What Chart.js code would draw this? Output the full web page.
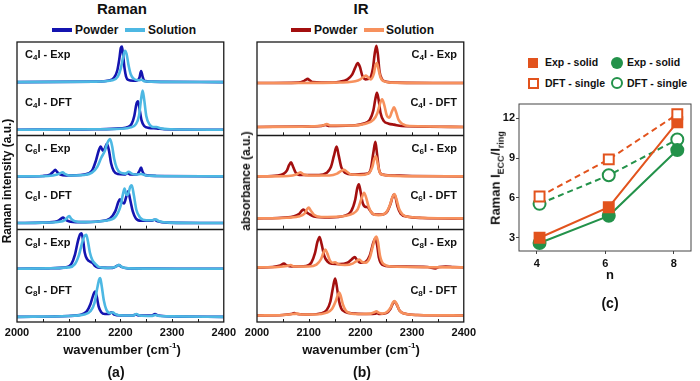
<!DOCTYPE html>
<html>
<head>
<meta charset="utf-8">
<script src="https://cdn.jsdelivr.net/npm/chart.js@4.4.1/dist/chart.umd.min.js"></script>
<style>
  html, body { margin: 0; padding: 0; background: #fff; }
  #page { position: relative; width: 700px; height: 381px; overflow: hidden; font-family: "Liberation Sans", Arial, sans-serif; color: #111; }
  .chartBox { position: absolute; }
  .t { position: absolute; white-space: nowrap; font-weight: 700; line-height: 1; }
  .c { transform: translate(-50%, -50%); }
  .rot { transform: translate(-50%, -50%) rotate(-90deg); }
  .lbl { font-size: 11px; transform: translateY(-50%); }
  .lbl sub { font-size: 8px; vertical-align: -2px; }
  .legLine { position: absolute; height: 4px; width: 20px; }
  .mk { position: absolute; box-sizing: border-box; }
</style>
</head>
<body>
<div id="page">
  <div class="t c" style="left:122px; top:8px; font-size:15px;">Raman</div>
  <div class="t c" style="left:361px; top:8px; font-size:15px;">IR</div>

  <div class="legLine" style="left:52px; top:28px; background:#1414b0;"></div>
  <div class="t" style="left:75px; top:24px; font-size:12px;">Powder</div>
  <div class="legLine" style="left:125px; top:28px; background:#4db8e3;"></div>
  <div class="t" style="left:148px; top:24px; font-size:12px;">Solution</div>

  <div class="legLine" style="left:291px; top:28px; background:#a30f0f;"></div>
  <div class="t" style="left:314px; top:24px; font-size:12px;">Powder</div>
  <div class="legLine" style="left:364px; top:28px; background:#f7915d;"></div>
  <div class="t" style="left:386px; top:24px; font-size:12px;">Solution</div>

  <div class="chartBox" style="left:0; top:0; width:240px; height:346px;"><canvas id="ramanChart"></canvas></div>
  <div class="chartBox" style="left:240px; top:0; width:240px; height:346px;"><canvas id="irChart"></canvas></div>
  <div class="chartBox" style="left:490px; top:95px; width:210px; height:180px;"><canvas id="ratioChart"></canvas></div>

  <div class="t lbl" style="left:25px; top:55px;">C<sub>4</sub>I - Exp</div>
  <div class="t lbl" style="left:25px; top:103px;">C<sub>4</sub>I - DFT</div>
  <div class="t lbl" style="left:25px; top:149px;">C<sub>6</sub>I - Exp</div>
  <div class="t lbl" style="left:25px; top:196px;">C<sub>6</sub>I - DFT</div>
  <div class="t lbl" style="left:25px; top:243px;">C<sub>8</sub>I - Exp</div>
  <div class="t lbl" style="left:25px; top:291px;">C<sub>8</sub>I - DFT</div>

  <div class="t lbl" style="right:243px; top:55px;">C<sub>4</sub>I - Exp</div>
  <div class="t lbl" style="right:243px; top:103px;">C<sub>4</sub>I - DFT</div>
  <div class="t lbl" style="right:243px; top:149px;">C<sub>6</sub>I - Exp</div>
  <div class="t lbl" style="right:243px; top:196px;">C<sub>6</sub>I - DFT</div>
  <div class="t lbl" style="right:243px; top:243px;">C<sub>8</sub>I - Exp</div>
  <div class="t lbl" style="right:243px; top:291px;">C<sub>8</sub>I - DFT</div>

  <div class="t rot" style="left:7px; top:181px; font-size:12px;">Raman intensity (a.u.)</div>
  <div class="t rot" style="left:246px; top:181px; font-size:12px;">absorbance (a.u.)</div>

  <div class="t c" style="left:122px; top:349px; font-size:13px;">wavenumber (cm<sup style="font-size:8px;">-1</sup>)</div>
  <div class="t c" style="left:361px; top:349px; font-size:13px;">wavenumber (cm<sup style="font-size:8px;">-1</sup>)</div>
  <div class="t c" style="left:116px; top:372px; font-size:14px;">(a)</div>
  <div class="t c" style="left:362px; top:372px; font-size:14px;">(b)</div>

  <div class="mk" style="left:528px; top:58px; width:10px; height:10px; background:#e2531d;"></div>
  <div class="t" style="left:545px; top:57px; font-size:10.5px;">Exp - solid</div>
  <div class="mk" style="left:611px; top:57px; width:12px; height:12px; border-radius:50%; background:#23924a;"></div>
  <div class="t" style="left:627px; top:57px; font-size:10.5px;">Exp - solid</div>
  <div class="mk" style="left:528px; top:78px; width:11px; height:11px; border:2px solid #e2531d; background:#fff;"></div>
  <div class="t" style="left:545px; top:78px; font-size:10.5px;">DFT - single</div>
  <div class="mk" style="left:611px; top:77px; width:12px; height:12px; border-radius:50%; border:2px solid #23924a; background:#fff;"></div>
  <div class="t" style="left:627px; top:78px; font-size:10.5px;">DFT - single</div>

  <div class="t rot" style="left:497px; top:178px; font-size:13px;">Raman I<sub style="font-size:9px;">ECC</sub>/I<sub style="font-size:9px;">ring</sub></div>
  <div class="t c" style="left:610px; top:274px; font-size:13px;">n</div>
  <div class="t c" style="left:610px; top:303px; font-size:14px;">(c)</div>
</div>

<script>
// Raman spectra [wavenumber, intensity]
const ramanC4ExpPowder = [[2000,0],[2150,0.01],[2180,0.04],[2188,0.1],[2194,0.25],[2198,0.5],[2201,0.74],[2203,0.76],[2205,0.6],[2208,0.3],[2211,0.12],[2215,0.05],[2225,0.03],[2233,0.04],[2237,0.1],[2240,0.24],[2243,0.12],[2246,0.03],[2260,0.01],[2400,0]];
const ramanC4ExpSolution = [[2000,0],[2150,0.01],[2185,0.04],[2195,0.12],[2201,0.3],[2205,0.52],[2209,0.67],[2212,0.6],[2216,0.35],[2220,0.17],[2226,0.07],[2235,0.04],[2241,0.05],[2246,0.02],[2260,0.01],[2400,0]];
const ramanC4DftPowder = [[2000,0],[2150,0.01],[2200,0.03],[2215,0.06],[2222,0.13],[2227,0.3],[2231,0.55],[2234,0.61],[2237,0.45],[2241,0.2],[2246,0.08],[2255,0.04],[2270,0.03],[2285,0.01],[2400,0]];
const ramanC4DftSolution = [[2000,0],[2150,0.01],[2200,0.02],[2220,0.05],[2230,0.12],[2236,0.3],[2240,0.65],[2243,0.84],[2246,0.65],[2250,0.3],[2256,0.12],[2263,0.06],[2270,0.06],[2277,0.03],[2300,0.01],[2400,0]];
const ramanC6ExpPowder = [[2000,0],[2050,0.01],[2064,0.04],[2070,0.1],[2074,0.14],[2078,0.09],[2084,0.04],[2095,0.02],[2130,0.04],[2145,0.12],[2153,0.35],[2158,0.55],[2162,0.64],[2166,0.55],[2170,0.6],[2174,0.7],[2178,0.55],[2182,0.28],[2187,0.12],[2195,0.05],[2208,0.04],[2214,0.07],[2220,0.04],[2232,0.04],[2237,0.12],[2240,0.19],[2243,0.1],[2248,0.03],[2270,0.01],[2400,0]];
const ramanC6ExpSolution = [[2000,0],[2060,0.01],[2078,0.04],[2084,0.07],[2088,0.09],[2093,0.05],[2100,0.02],[2130,0.03],[2145,0.08],[2155,0.2],[2163,0.4],[2170,0.55],[2175,0.72],[2180,0.8],[2184,0.65],[2188,0.38],[2193,0.18],[2200,0.08],[2210,0.06],[2216,0.1],[2222,0.06],[2232,0.04],[2240,0.05],[2250,0.02],[2270,0.01],[2400,0]];
const ramanC6DftPowder = [[2000,0],[2050,0.01],[2078,0.04],[2085,0.09],[2089,0.12],[2093,0.08],[2100,0.04],[2120,0.02],[2160,0.04],[2180,0.1],[2190,0.25],[2196,0.45],[2199,0.51],[2203,0.45],[2207,0.42],[2211,0.55],[2215,0.68],[2219,0.5],[2224,0.25],[2230,0.1],[2240,0.05],[2260,0.05],[2266,0.07],[2272,0.04],[2290,0.01],[2400,0]];
const ramanC6DftSolution = [[2000,0],[2050,0.01],[2088,0.04],[2095,0.09],[2101,0.15],[2105,0.09],[2112,0.04],[2130,0.02],[2170,0.05],[2190,0.13],[2200,0.35],[2205,0.62],[2208,0.74],[2212,0.6],[2215,0.62],[2219,0.78],[2222,0.81],[2226,0.6],[2231,0.28],[2238,0.12],[2250,0.06],[2262,0.06],[2268,0.08],[2275,0.04],[2295,0.01],[2400,0]];
const ramanC8ExpPowder = [[2000,0],[2060,0.01],[2095,0.03],[2105,0.1],[2112,0.3],[2118,0.6],[2122,0.74],[2125,0.76],[2128,0.6],[2131,0.35],[2136,0.2],[2142,0.15],[2146,0.13],[2150,0.07],[2156,0.03],[2185,0.02],[2193,0.06],[2197,0.08],[2202,0.04],[2215,0.01],[2400,0]];
const ramanC8ExpSolution = [[2000,0],[2060,0.01],[2100,0.03],[2112,0.1],[2120,0.3],[2127,0.6],[2131,0.71],[2134,0.73],[2137,0.6],[2141,0.35],[2146,0.18],[2152,0.1],[2158,0.04],[2170,0.02],[2190,0.04],[2197,0.08],[2203,0.04],[2215,0.01],[2400,0]];
const ramanC8DftPowder = [[2000,0],[2100,0.02],[2125,0.05],[2135,0.12],[2142,0.27],[2147,0.45],[2151,0.54],[2154,0.45],[2158,0.22],[2163,0.1],[2170,0.06],[2178,0.06],[2183,0.1],[2188,0.05],[2200,0.03],[2224,0.03],[2230,0.05],[2236,0.03],[2260,0.03],[2267,0.06],[2273,0.03],[2300,0.01],[2400,0]];
const ramanC8DftSolution = [[2000,0],[2100,0.02],[2130,0.05],[2142,0.12],[2150,0.3],[2155,0.6],[2159,0.8],[2161,0.83],[2164,0.65],[2168,0.35],[2173,0.15],[2180,0.08],[2185,0.1],[2190,0.06],[2205,0.03],[2224,0.03],[2231,0.06],[2237,0.03],[2260,0.02],[2268,0.04],[2275,0.02],[2300,0.01],[2400,0]];

// IR spectra [wavenumber, absorbance]
const irC4ExpPowder = [[2000,0],[2080,0.01],[2090,0.04],[2094,0.07],[2098,0.09],[2102,0.06],[2108,0.02],[2125,0.01],[2160,0.03],[2175,0.08],[2184,0.18],[2190,0.33],[2195,0.43],[2199,0.35],[2204,0.15],[2210,0.08],[2218,0.1],[2224,0.3],[2228,0.65],[2231,0.8],[2234,0.6],[2237,0.25],[2242,0.08],[2250,0.03],[2270,0.01],[2400,0]];
const irC4ExpSolution = [[2000,0],[2150,0.01],[2190,0.04],[2200,0.08],[2206,0.13],[2211,0.16],[2215,0.12],[2220,0.08],[2226,0.2],[2229,0.37],[2232,0.43],[2235,0.3],[2239,0.12],[2245,0.04],[2260,0.01],[2400,0]];
const irC4DftPowder = [[2000,0],[2100,0.01],[2125,0.02],[2132,0.04],[2140,0.02],[2180,0.03],[2205,0.07],[2218,0.15],[2225,0.35],[2229,0.6],[2232,0.73],[2235,0.6],[2239,0.3],[2245,0.13],[2255,0.07],[2265,0.05],[2280,0.02],[2400,0]];
const irC4DftSolution = [[2000,0],[2100,0.01],[2127,0.03],[2135,0.06],[2143,0.03],[2180,0.03],[2210,0.07],[2225,0.15],[2233,0.3],[2238,0.5],[2242,0.59],[2246,0.48],[2251,0.25],[2256,0.2],[2261,0.33],[2265,0.42],[2269,0.32],[2274,0.15],[2282,0.06],[2295,0.02],[2400,0]];
const irC6ExpPowder = [[2000,0],[2040,0.02],[2052,0.06],[2058,0.13],[2062,0.24],[2066,0.3],[2070,0.2],[2075,0.08],[2085,0.03],[2120,0.03],[2135,0.08],[2143,0.2],[2149,0.45],[2154,0.64],[2158,0.45],[2163,0.2],[2170,0.08],[2185,0.04],[2205,0.05],[2214,0.06],[2220,0.15],[2225,0.5],[2229,0.74],[2232,0.5],[2236,0.15],[2242,0.04],[2260,0.02],[2300,0.01],[2400,0]];
const irC6ExpSolution = [[2000,0],[2060,0.01],[2076,0.04],[2084,0.09],[2090,0.04],[2100,0.02],[2140,0.02],[2155,0.06],[2163,0.12],[2168,0.14],[2174,0.1],[2182,0.04],[2200,0.03],[2215,0.06],[2223,0.2],[2227,0.38],[2230,0.43],[2233,0.3],[2237,0.1],[2245,0.03],[2270,0.01],[2400,0]];
const irC6DftPowder = [[2000,0],[2040,0.01],[2070,0.04],[2082,0.1],[2087,0.17],[2090,0.19],[2094,0.15],[2100,0.1],[2110,0.04],[2140,0.02],[2170,0.06],[2182,0.15],[2190,0.4],[2194,0.65],[2197,0.73],[2200,0.6],[2204,0.35],[2209,0.25],[2214,0.24],[2218,0.18],[2225,0.09],[2240,0.08],[2252,0.15],[2258,0.3],[2262,0.45],[2265,0.51],[2268,0.45],[2272,0.25],[2278,0.1],[2290,0.04],[2320,0.01],[2400,0]];
const irC6DftSolution = [[2000,0],[2050,0.01],[2080,0.04],[2092,0.1],[2097,0.2],[2100,0.23],[2104,0.17],[2110,0.08],[2125,0.03],[2160,0.04],[2185,0.1],[2195,0.2],[2202,0.42],[2207,0.55],[2211,0.45],[2216,0.25],[2223,0.11],[2235,0.07],[2250,0.13],[2257,0.28],[2262,0.46],[2266,0.52],[2270,0.4],[2275,0.2],[2282,0.08],[2295,0.03],[2330,0.01],[2400,0]];
const irC8ExpPowder = [[2000,0],[2030,0.01],[2045,0.04],[2052,0.08],[2058,0.04],[2068,0.02],[2095,0.03],[2105,0.1],[2112,0.3],[2117,0.55],[2121,0.65],[2125,0.5],[2130,0.25],[2137,0.12],[2145,0.08],[2160,0.07],[2175,0.1],[2183,0.17],[2189,0.22],[2194,0.15],[2200,0.1],[2210,0.12],[2218,0.25],[2223,0.45],[2228,0.61],[2232,0.5],[2236,0.2],[2242,0.06],[2260,0.02],[2330,0.01],[2345,-0.02],[2352,0.01],[2365,0.02],[2380,0.01],[2400,0]];
const irC8ExpSolution = [[2000,0],[2040,0.01],[2058,0.03],[2065,0.05],[2072,0.02],[2100,0.02],[2115,0.06],[2124,0.18],[2129,0.33],[2132,0.38],[2136,0.3],[2141,0.15],[2146,0.1],[2151,0.11],[2157,0.07],[2170,0.05],[2185,0.08],[2193,0.14],[2198,0.17],[2203,0.12],[2210,0.1],[2218,0.2],[2224,0.45],[2228,0.62],[2231,0.66],[2234,0.55],[2238,0.25],[2244,0.08],[2260,0.02],[2400,0]];
const irC8DftPowder = [[2000,0],[2050,0.01],[2066,0.03],[2072,0.05],[2078,0.03],[2100,0.02],[2125,0.05],[2135,0.12],[2142,0.3],[2147,0.6],[2151,0.79],[2154,0.65],[2158,0.35],[2163,0.15],[2170,0.08],[2190,0.04],[2220,0.03],[2228,0.04],[2232,0.05],[2237,0.03],[2250,0.05],[2258,0.14],[2263,0.26],[2266,0.3],[2270,0.24],[2276,0.1],[2285,0.04],[2310,0.01],[2400,0]];
const irC8DftSolution = [[2000,0],[2050,0.01],[2070,0.03],[2078,0.04],[2085,0.02],[2110,0.02],[2135,0.06],[2145,0.14],[2152,0.3],[2156,0.43],[2159,0.49],[2162,0.42],[2166,0.24],[2172,0.1],[2180,0.05],[2200,0.03],[2220,0.04],[2227,0.07],[2231,0.09],[2235,0.06],[2242,0.04],[2252,0.08],[2259,0.18],[2263,0.28],[2266,0.31],[2270,0.25],[2276,0.1],[2285,0.04],[2310,0.01],[2400,0]];

// vertical stacking of the traces (top to bottom)
const ramanOffsets = [5.14, 4.12, 3.12, 2.12, 1.14, 0.11];
const irOffsets = [5.12, 4.18, 3.12, 2.22, 1.17, 0.14];

// panel (c)
const nValues = [4.08, 6.1, 8.1];
const expSolidSquares = [3.0, 5.3, 11.7];
const dftSingleSquares = [6.1, 8.9, 12.3];
const expSolidCircles = [2.6, 4.65, 9.6];
const dftSingleCircles = [5.55, 7.7, 10.4];
const ratioTicks = [3, 6, 9, 12];
const nTicks = [4, 6, 8];

const FONT = '"Liberation Sans", Arial, sans-serif';

// cadru, separatoare si tick-uri interioare
const frameTicks = {
    id: 'frameTicks',
    afterDatasetsDraw(chart, args, opts) {
        const { ctx, chartArea: a, scales: { x, y } } = chart;
        ctx.save();
        ctx.strokeStyle = opts.color || '#1a1a1a';
        ctx.lineWidth = opts.width || 1.3;
        ctx.strokeRect(a.left, a.top, a.right - a.left, a.bottom - a.top);
        (opts.dividers || []).forEach(v => {
            const py = Math.round(y.getPixelForValue(v)) + 0.5;
            ctx.beginPath();
            ctx.moveTo(a.left, py);
            ctx.lineTo(a.right, py);
            ctx.stroke();
        });
        ctx.lineWidth = 1;
        (opts.tickRows || []).forEach(v => {
            const py = y.getPixelForValue(v);
            (opts.tickValues || []).forEach(t => {
                const px = Math.round(x.getPixelForValue(t)) + 0.5;
                ctx.beginPath();
                ctx.moveTo(px, py);
                ctx.lineTo(px, py - 3);
                ctx.stroke();
            });
        });
        ctx.restore();
    }
};

function spectrumDatasets(pairs, offsets, powderColor, solutionColor) {
    const sets = [];
    pairs.forEach(([powder, solution], i) => {
        sets.push({
            data: solution.map(([x, v]) => ({ x, y: v + offsets[i] })),
            borderColor: solutionColor,
            order: 0
        });
        sets.push({
            data: powder.map(([x, v]) => ({ x, y: v + offsets[i] })),
            borderColor: powderColor,
            order: 1
        });
    });
    return sets.map(s => Object.assign(s, {
        borderWidth: 2.6,
        pointRadius: 0,
        fill: false,
        cubicInterpolationMode: 'monotone',
        borderJoinStyle: 'round'
    }));
}

function makeSpectrumChart(canvasId, pairs, offsets, powderColor, solutionColor) {
    new Chart(document.getElementById(canvasId), {
        type: 'line',
        data: { datasets: spectrumDatasets(pairs, offsets, powderColor, solutionColor) },
        options: {
            responsive: true,
            maintainAspectRatio: false,
            animation: false,
            layout: { padding: { left: 17, top: 42, right: 14, bottom: 0 } },
            plugins: {
                legend: { display: false },
                tooltip: { enabled: false },
                frameTicks: {
                    dividers: [2, 4],
                    tickRows: [0, 2, 4],
                    tickValues: [2050, 2100, 2150, 2200, 2250, 2300, 2350]
                }
            },
            scales: {
                x: {
                    type: 'linear',
                    min: 2000,
                    max: 2400,
                    grid: { display: false, drawTicks: false },
                    border: { display: false },
                    ticks: {
                        stepSize: 100,
                        maxRotation: 0,
                        padding: 4,
                        color: '#111',
                        font: { family: FONT, size: 11, weight: 'bold' },
                        callback: value => String(value)
                    },
                    afterFit(scale) { scale.height = 24; }
                },
                y: { display: false, min: 0, max: 6 }
            }
        },
        plugins: [frameTicks]
    });
}

makeSpectrumChart('ramanChart', [
    [ramanC4ExpPowder, ramanC4ExpSolution],
    [ramanC4DftPowder, ramanC4DftSolution],
    [ramanC6ExpPowder, ramanC6ExpSolution],
    [ramanC6DftPowder, ramanC6DftSolution],
    [ramanC8ExpPowder, ramanC8ExpSolution],
    [ramanC8DftPowder, ramanC8DftSolution]
], ramanOffsets, '#1414b0', '#4db8e3');

makeSpectrumChart('irChart', [
    [irC4ExpPowder, irC4ExpSolution],
    [irC4DftPowder, irC4DftSolution],
    [irC6ExpPowder, irC6ExpSolution],
    [irC6DftPowder, irC6DftSolution],
    [irC8ExpPowder, irC8ExpSolution],
    [irC8DftPowder, irC8DftSolution]
], irOffsets, '#a30f0f', '#f7915d');

const ORANGE = '#e2531d';
const GREEN = '#23924a';

function ratioSet(values, color, style, filled, dashed, order) {
    return {
        data: values.map((v, i) => ({ x: nValues[i], y: v })),
        borderColor: color,
        borderWidth: 2,
        borderDash: dashed ? [6, 4] : [],
        pointStyle: style,
        pointRadius: style === 'rect' ? 7 : 6,
        pointBorderWidth: 2,
        pointBorderColor: color,
        pointBackgroundColor: filled ? color : '#fff',
        fill: false,
        tension: 0,
        order
    };
}

new Chart(document.getElementById('ratioChart'), {
    type: 'line',
    data: {
        datasets: [
            ratioSet(dftSingleSquares, ORANGE, 'rect', false, true, 0),
            ratioSet(expSolidSquares, ORANGE, 'rect', true, false, 1),
            ratioSet(expSolidCircles, GREEN, 'circle', true, false, 2),
            ratioSet(dftSingleCircles, GREEN, 'circle', false, true, 3)
        ]
    },
    options: {
        responsive: true,
        maintainAspectRatio: false,
        animation: false,
        layout: { padding: { left: 0, top: 9, right: 1, bottom: 0 } },
        plugins: {
            legend: { display: false },
            tooltip: { enabled: false },
            frameTicks: { color: '#444', width: 1 }
        },
        scales: {
            x: {
                type: 'linear',
                min: 3.48,
                max: 8.5,
                afterBuildTicks(scale) { scale.ticks = nTicks.map(v => ({ value: v })); },
                grid: { drawOnChartArea: false, drawTicks: true, tickLength: 3, color: '#444' },
                border: { display: false },
                ticks: { padding: 3, color: '#111', font: { family: FONT, size: 11, weight: 'bold' } },
                afterFit(scale) { scale.height = 24; }
            },
            y: {
                type: 'linear',
                min: 2,
                max: 13.07,
                afterBuildTicks(scale) { scale.ticks = ratioTicks.map(v => ({ value: v })); },
                grid: { drawOnChartArea: false, drawTicks: true, tickLength: 3, color: '#444' },
                border: { display: false },
                ticks: { padding: 1, color: '#111', font: { family: FONT, size: 11, weight: 'bold' } },
                afterFit(scale) { scale.width = 29; }
            }
        }
    },
    plugins: [frameTicks]
});
</script>
</body>
</html>
